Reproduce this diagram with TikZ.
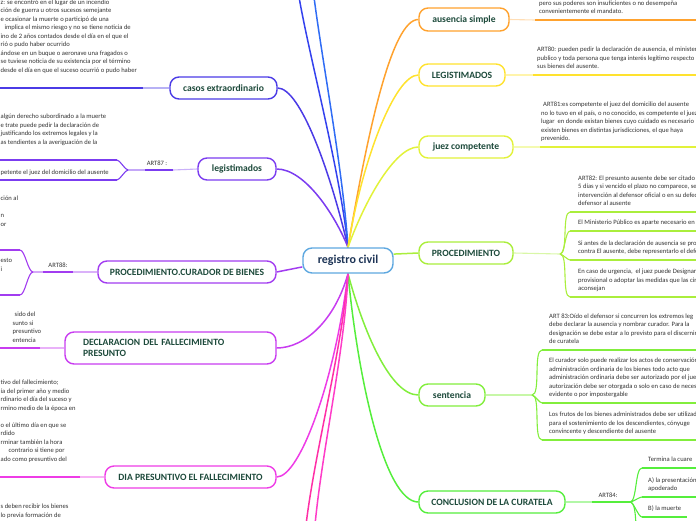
\documentclass[tikz,border=0pt]{standalone}
\usepackage{fontspec}
\setmainfont{Carlito}
\usetikzlibrary{backgrounds}
\definecolor{cCenter}{HTML}{5EA8E0}
\definecolor{cAus}{HTML}{FFA22E}
\definecolor{cLeg}{HTML}{FFE22E}
\definecolor{cJuez}{HTML}{E2F23A}
\definecolor{cProc}{HTML}{AAEE3C}
\definecolor{cSent}{HTML}{82EE3C}
\definecolor{cConc}{HTML}{55EE3C}
\definecolor{cCasos}{HTML}{4B3BE6}
\definecolor{cLegis}{HTML}{7B3CF0}
\definecolor{cCur}{HTML}{A23CF0}
\definecolor{cDecl}{HTML}{C83CF0}
\definecolor{cDia}{HTML}{EE3CE6}
\definecolor{cPinkA}{HTML}{FF2FA6}
\definecolor{cPinkB}{HTML}{FF3CC8}
\definecolor{cBlueA}{HTML}{3442EE}
\definecolor{cBlueB}{HTML}{2F6CF5}
\definecolor{ttext}{HTML}{1D4A3B}
\definecolor{ctext}{HTML}{1E3557}
\definecolor{stext}{HTML}{333333}
\begin{document}
\begin{tikzpicture}[x=1pt,y=-1pt,
  topic/.style={draw, fill=white, rounded corners=9pt, line width=1.4pt, font=\fontsize{9.6}{11}\selectfont\bfseries, text=ttext, inner sep=0pt},
  small/.style={font=\fontsize{6.6}{8.5}\selectfont, text=stext, align=left, inner sep=0pt, anchor=south west},
  lbl/.style={font=\fontsize{6.6}{8.5}\selectfont, text=stext, inner sep=0pt},
  link/.style={line width=1.5pt},
  uline/.style={line width=1.9pt},
  faint/.style={line width=1.1pt},
  brace/.style={line width=1.1pt}]
\useasboundingbox (0,0) rectangle (696,520);
\clip (0,0) rectangle (696,520);

% ---------- nodes ----------
\node[topic, draw=cCenter, minimum width=90pt, minimum height=25pt, font=\fontsize{12}{14}\selectfont\bfseries, text=ctext] (rc) at (348,260.5) {registro civil};
\node[topic, draw=cAus, minimum width=90pt, minimum height=23pt] (aus) at (464,19.5) {ausencia simple};
\node[topic, draw=cLeg, minimum width=86pt, minimum height=22pt] (leg) at (462,75) {LEGISTIMADOS};
\node[topic, draw=cJuez, minimum width=94pt, minimum height=22pt] (juez) at (466,147) {juez competente};
\node[topic, draw=cProc, minimum width=94pt, minimum height=22pt] (proc) at (466,253) {PROCEDIMIENTO};
\node[topic, draw=cSent, minimum width=66pt, minimum height=22pt] (sent) at (452,395) {sentencia};
\node[topic, draw=cConc, minimum width=146pt, minimum height=22pt] (conc) at (492,502) {CONCLUSION DE LA CURATELA};
\node[topic, draw=cCasos, minimum width=107pt, minimum height=22pt] (casos) at (223.5,88) {casos extraordinario};
\node[topic, draw=cLegis, minimum width=78pt, minimum height=22pt] (legis) at (237,169) {legistimados};
\node[topic, draw=cCur, minimum width=178pt, minimum height=22pt] (cur) at (187,272) {PROCEDIMIENTO.CURADOR DE BIENES};
\node[topic, draw=cDecl, minimum width=211pt, minimum height=32pt, align=left, text width=175pt] (decl) at (170.5,348) {DECLARACION DEL FALLECIMIENTO\\PRESUNTO};
\node[topic, draw=cDia, minimum width=171pt, minimum height=22pt] (dia) at (190.5,477) {DIA PRESUNTIVO EL FALLECIMIENTO};

% ---------- coordinates ----------
\coordinate (R) at (700,0);
\coordinate (L) at (-4,0);
\coordinate (b1) at (299,-3);
\coordinate (b2) at (314,-3);
\coordinate (p1) at (306,525);
\coordinate (p2) at (315,525);
\coordinate (ausU) at (535,20);
\coordinate (legU) at (533,75);
\coordinate (juezU) at (540,147);
\coordinate (procJ) at (560,254);
\coordinate (procC1) at (570,212);
\coordinate (procC2) at (570,231);
\coordinate (procC3) at (570,260);
\coordinate (procC4) at (570,297);
\coordinate (sentJ) at (532,395);
\coordinate (sentC1) at (542,350);
\coordinate (sentC2) at (542,403);
\coordinate (sentC3) at (542,440);
\coordinate (concU) at (592,502);
\coordinate (concJ) at (630,502);
\coordinate (concC1) at (642,468);
\coordinate (concC2) at (642,497);
\coordinate (concC3) at (642,517);
\coordinate (concE3) at (687,517);
\coordinate (concC4) at (642,548);
\coordinate (casosU) at (143,88);
\coordinate (legisU) at (173,170);
\coordinate (legisV) at (145,170);
\coordinate (legisJ) at (128,170);
\coordinate (legisC1) at (117,160);
\coordinate (legisC2) at (117,180);
\coordinate (curU) at (73,272);
\coordinate (curV) at (43,272);
\coordinate (curJ) at (33,272);
\coordinate (curC1) at (20,250);
\coordinate (curC2) at (20,295);
\coordinate (declU) at (40,348);
\coordinate (diaU) at (80,477);

% ---------- connectors ----------
\begin{scope}[on background layer]
\clip (0,0) rectangle (696,520);
\draw[link, cBlueA] (rc.north) .. controls (340,170) and (310,60) .. (b1);
\draw[link, cBlueB] (rc.north) .. controls (343,170) and (322,60) .. (b2);
\draw[link, cCasos] (rc.north) .. controls (330,170) and (300,88) .. (casos.east);
\draw[link, cLegis] (rc.north) .. controls (335,215) and (305,169) .. (legis.east);
\draw[link, cAus] (rc.north) .. controls (368,130) and (392,19.5) .. (aus.west);
\draw[link, cLeg] (rc.north) .. controls (362,160) and (395,75) .. (leg.west);
\draw[link, cJuez] (rc.north) .. controls (365,200) and (395,147) .. (juez.west);
\draw[link, cProc] (rc.8) -- (proc.west);
\draw[link, cCur] (rc.188) -- (cur.east);
\draw[link, cSent] (rc.south) .. controls (363,330) and (390,395) .. (sent.west);
\draw[link, cConc] (rc.south) .. controls (358,380) and (385,502) .. (conc.west);
\draw[link, cDecl] (rc.south) .. controls (335,320) and (305,348) .. (decl.east);
\draw[link, cDia] (rc.south) .. controls (335,380) and (300,477) .. (dia.east);
\draw[link, cPinkA] (rc.south) .. controls (342,350) and (315,450) .. (p1);
\draw[link, cPinkB] (rc.south) .. controls (345,350) and (322,450) .. (p2);

% right side
\draw[faint, cAus!35] (aus.east) -- (ausU);
\draw[uline, cAus] (ausU) -- (ausU -| R);
\draw[faint, cLeg!40] (leg.east) -- (legU);
\draw[uline, cLeg] (legU) -- (legU -| R);
\draw[faint, cJuez!40] (juez.east) -- (juezU);
\draw[uline, cJuez] (juezU) -- (juezU -| R);
\draw[faint, cProc!45] (proc.east) -- (procJ);
\foreach \c in {procC1,procC2,procC3,procC4}{
  \draw[brace, cProc] (procJ) to[out=0,in=180,looseness=0.5] (\c);
  \draw[uline, cProc] (\c) -- (\c -| R);
}
\draw[faint, cSent!45] (sent.east) -- (sentJ);
\foreach \c in {sentC1,sentC2,sentC3}{
  \draw[brace, cSent] (sentJ) to[out=0,in=180,looseness=0.5] (\c);
  \draw[uline, cSent] (\c) -- (\c -| R);
}
\draw[faint, cConc!45] (conc.east) -- (concU);
\draw[uline, cConc] (concU) -- (concJ);
\foreach \c in {concC1,concC2,concC3,concC4}{
  \draw[brace, cConc] (concJ) to[out=0,in=180,looseness=0.5] (\c);
}
\draw[uline, cConc] (concC1) -- (concC1 -| R);
\draw[uline, cConc] (concC2) -- (concC2 -| R);
\draw[uline, cConc] (concC3) -- (concE3);

% left side
\draw[faint, cCasos!40] (casos.west) -- (casosU);
\draw[uline, cCasos] (casosU) -- (casosU -| L);
\draw[faint, cLegis!40] (legis.west) -- (legisU);
\draw[uline, cLegis] (legisU) -- (legisV);
\draw[faint, cLegis!45] (legisV) -- (legisJ);
\foreach \c in {legisC1,legisC2}{
  \draw[brace, cLegis] (legisJ) to[out=180,in=0,looseness=0.5] (\c);
  \draw[uline, cLegis] (\c) -- (\c -| L);
}
\draw[faint, cCur!40] (cur.west) -- (curU);
\draw[uline, cCur] (curU) -- (curV);
\draw[faint, cCur!45] (curV) -- (curJ);
\foreach \c in {curC1,curC2}{
  \draw[brace, cCur] (curJ) to[out=180,in=0,looseness=0.5] (\c);
  \draw[uline, cCur] (\c) -- (\c -| L);
}
\draw[faint, cDecl!40] (decl.west) -- (declU);
\draw[uline, cDecl] (declU) -- (declU -| L);
\draw[faint, cDia!40] (dia.west) -- (diaU);
\draw[uline, cDia] (diaU) -- (diaU -| L);
\end{scope}

% ---------- labels ----------
\node[lbl] (a87) at (157,163) {ART87 :};
\node[lbl] (a88) at (58,265) {ART88:};
\node[lbl] (a84) at (608,495) {ART84:};

% ---------- texts right ----------
\node[small] (tAus) at (539,16.5) {pero sus poderes son insuficientes o no desempeña\\convenientemente el mandato.\strut};
\node[small] (tLeg) at (537,71.5) {ART80: pueden pedir la declaración de ausencia, el ministerio\\publico y toda persona que tenga interés legítimo respecto\\sus bienes del ausente.\strut};
\node[small] (tJuez) at (541,143.5) {\hspace*{2pt}ART81:es competente el juez del domicilio del ausente\\no lo tuvo en el país, o no conocido, es competente el juez\\lugar\ \ en donde existan bienes cuyo cuidado es necesario\\existen bienes en distintas jurisdicciones, el que haya\\prevenido.\strut};
\node[small] (tP1) at (578,208.5) {ART82: El presunto ausente debe ser citado\\5 días y si vencido el plazo no comparece, se\\intervención al defensor oficial o en su defecto\\defensor al ausente\strut};
\node[small] (tP2) at (578,227.5) {El Ministerio Público es aparte necesario en\strut};
\node[small] (tP3) at (578,256.5) {Si antes de la declaración de ausencia se pro\\contra El ausente, debe representarlo el defe\strut};
\node[small] (tP4) at (578,293.5) {En caso de urgencia,\ \ el juez puede Designar\\provisional o adoptar las medidas que las cir\\aconsejan\strut};
\node[small] (tS1) at (549,346.5) {ART 83:Oído el defensor si concurren los extremos leg\\debe declarar la ausencia y nombrar curador. Para la\\designación se debe estar a lo previsto para el discernim\\de curatela\strut};
\node[small] (tS2) at (549,399.5) {El curador solo puede realizar los actos de conservación\\administración ordinaria de los bienes todo acto que\\administración ordinaria debe ser autorizado por el juez\\autorización debe ser otorgada o solo en caso de necesidad\\evidente o por impostergable\strut};
\node[small] (tS3) at (549,436.5) {Los frutos de los bienes administrados debe ser utilizados\\para el sostenimiento de los descendientes, cónyuge\\convincente y descendiente del ausente\strut};
\node[small] (tC1) at (648,464.5) {Termina la cuare\strut};
\node[small] (tC2) at (648,493.5) {A) la presentación\\apoderado\strut};
\node[small] (tC3) at (648,513.5) {B) la muerte\strut};

% ---------- texts left ----------
\node[small] (tCasos) at (0.5,75) {z: se encontró en el lugar de un incendio\\ción de guerra u otros sucesos semejante\\e ocasionar la muerte o participó de una\\\hspace*{4pt}implica el mismo riesgo y no se tiene noticia de\\ino de 2 años contados desde el día en el que el\\rió o pudo haber ocurrido\\ándose en un buque o aeronave una fragados o\\se tuviese noticia de su existencia por el término\\desde el día en que el suceso ocurrió o pudo haber\strut};
\node[small] (tLegis1) at (0.5,147) {algún derecho subordinado a la muerte\\e trate puede pedir la declaración de\\justificando los extremos legales y la\\as tendientes a la averiguación de la\strut};
\node[small] (tLegis2) at (0.5,177) {petente el juez del domicilio del ausente\strut};
\node[small] (tCur1) at (0.5,229) {ción al\\\strut\\n\\or\strut};
\node[small] (tCur2) at (0.5,274) {esto\\i\strut};
\node[small] (tDecl) at (12.5,345) {\hspace*{2pt}sido del\\sunto si\\presuntivo\\entencia\strut};
\node[small] (tDia) at (0.5,464) {tivo del fallecimiento;\\ía del primer año y medio\\rdinario el día del suceso y\\rmino medio de la época en\\\strut\\o el último día en que se\\rdido\\rminar también la hora\\\hspace*{8pt}contrario si tiene por\\ado como presuntivo del\strut};
\node[small] (tBot) at (0.5,520) {s deben recibir los bienes\\lo previa formación de\strut};
\end{tikzpicture}
\end{document}
